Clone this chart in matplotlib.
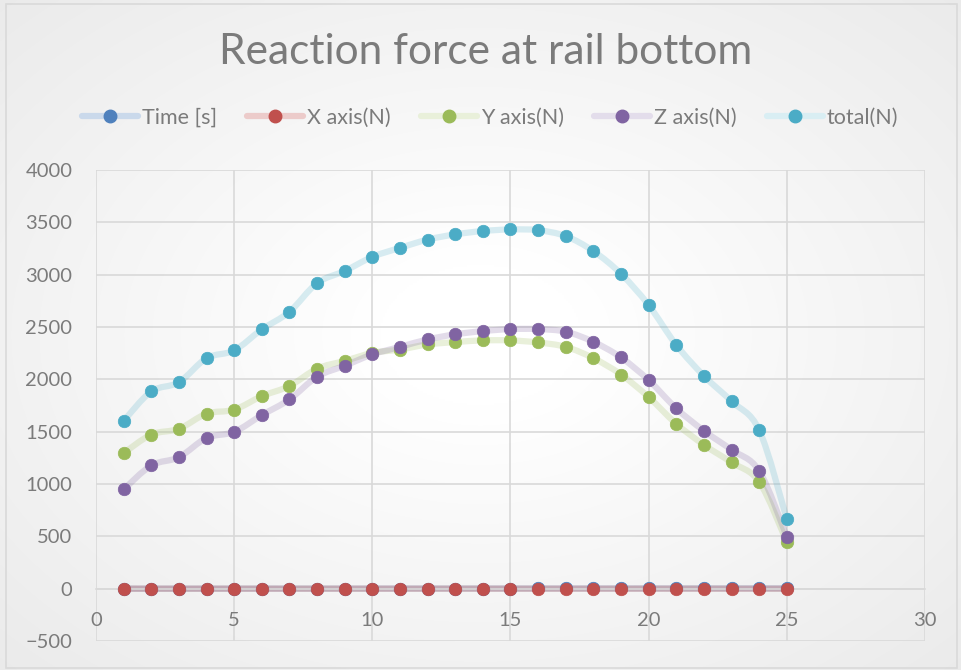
import numpy as np
import matplotlib
matplotlib.use("Agg")
import matplotlib.pyplot as plt
from matplotlib.path import Path
from matplotlib.patches import PathPatch, Rectangle
from matplotlib.lines import Line2D

plt.rcParams['font.family'] = ['Lato', 'DejaVu Sans']

# ---- data -------------------------------------------------------------
step = [1, 2, 3, 4, 5, 6, 7, 8, 9, 10, 11, 12, 13, 14, 15, 16, 17, 18, 19,
        20, 21, 22, 23, 24, 25]
time_s = [0.1, 0.2, 0.3, 0.4, 0.5, 0.6, 0.7, 0.8, 0.9, 1.0, 1.1, 1.2, 1.3,
          1.4, 1.5, 1.6, 1.7, 1.8, 1.9, 2.0, 2.1, 2.2, 2.3, 2.4, 2.5]
x_axis = [0, 0, 0, 0, 0, 0, 0, 0, 0, 0, 0, 0, 0, 0, 0, 0, 0, 0, 0, 0, 0, 0,
          0, 0, 0]
y_axis = [1295, 1472, 1527, 1672, 1710, 1839, 1936, 2102, 2176, 2252, 2285,
          2333, 2356, 2372, 2372, 2352, 2310, 2202, 2046, 1830, 1575, 1374,
          1206, 1020, 447]
z_axis = [948, 1177, 1256, 1440, 1498, 1658, 1808, 2025, 2130, 2238, 2310,
          2381, 2430, 2461, 2480, 2480, 2455, 2358, 2209, 1992, 1722, 1508,
          1326, 1125, 495]
total = [1603, 1884, 1972, 2202, 2276, 2477, 2645, 2919, 3035, 3170, 3256,
         3335, 3385, 3417, 3432, 3425, 3368, 3225, 3008, 2709, 2328, 2033,
         1790, 1515, 665]

series_names = ['Time [s]', 'X axis(N)', 'Y axis(N)', 'Z axis(N)', 'total(N)']
series_values = [time_s, x_axis, y_axis, z_axis, total]
marker_colors = ['#4f81bd', '#c0504d', '#9bbb59', '#8064a2', '#4bacc6']
line_alphas = [0.3, 0.3, 0.22, 0.22, 0.21]

x_ticks = [0, 5, 10, 15, 20, 25, 30]
y_ticks = [-500, 0, 500, 1000, 1500, 2000, 2500, 3000, 3500, 4000]

TEXT_GRAY = '#7b7b7b'
GRID_GRAY = '#d9d9d9'


def smooth_path(xs, ys):
    """Catmull-Rom style Bezier through the points (spreadsheet 'smoothed line')."""
    pts = np.column_stack([xs, ys]).astype(float)
    verts = [pts[0]]
    codes = [Path.MOVETO]
    n = len(pts)
    for i in range(n - 1):
        p0 = pts[i - 1] if i > 0 else pts[i]
        p1 = pts[i]
        p2 = pts[i + 1]
        p3 = pts[i + 2] if i + 2 < n else pts[i + 1]
        verts += [p1 + (p2 - p0) / 6.0, p2 - (p3 - p1) / 6.0, p2]
        codes += [Path.CURVE4] * 3
    return Path(verts, codes)


def blend(hex_color, alpha):
    rgb = np.array(matplotlib.colors.to_rgb(hex_color))
    return tuple(1 - alpha * (1 - rgb))


fig = plt.figure(figsize=(9.61, 6.70), dpi=100)

# soft radial background
bg = fig.add_axes([0, 0, 1, 1], zorder=-10)
gx, gy = np.meshgrid(np.linspace(-1, 1, 481), np.linspace(-1, 1, 335))
r = np.clip(np.sqrt(gx ** 2 + gy ** 2) / np.sqrt(2), 0, 1)
shade = 1.0 - 0.08 * np.clip((r - 0.15) / 0.85, 0, 1)
bg.imshow(np.dstack([shade, shade, shade]), extent=[0, 1, 0, 1],
          aspect='auto', interpolation='bilinear')
bg.set_xlim(0, 1)
bg.set_ylim(0, 1)
bg.axis('off')
bg.add_patch(Rectangle((6 / 961, 2 / 670), 951 / 961, 664 / 670,
                       transform=bg.transAxes, fill=False,
                       edgecolor=GRID_GRAY, lw=1.2))

ax = fig.add_axes([96 / 961, 1 - 641 / 670, 829 / 961, 471 / 670])
ax.set_facecolor('none')
ax.set_xlim(0, 30)
ax.set_ylim(-500, 4000)
ax.set_xticks(x_ticks)
ax.set_yticks(y_ticks)
ax.grid(True, color=GRID_GRAY, lw=1.2)
ax.set_axisbelow(True)
for side in ['top', 'right', 'left']:
    ax.spines[side].set_visible(False)
ax.spines['bottom'].set_position(('data', 0))
ax.spines['bottom'].set_color(GRID_GRAY)
ax.spines['bottom'].set_linewidth(1.2)
ax.tick_params(axis='both', length=0, labelsize=14.5, colors=TEXT_GRAY)
ax.tick_params(axis='x', pad=17)
ax.tick_params(axis='y', pad=17)

for vals, col, a in zip(series_values, marker_colors, line_alphas):
    ax.add_patch(PathPatch(smooth_path(step, vals), facecolor='none',
                           edgecolor=col, lw=4.5, alpha=a,
                           capstyle='round', joinstyle='round', zorder=2))
    ax.plot(step, vals, linestyle='none', marker='o', markersize=9,
            markerfacecolor=col, markeredgecolor=col, markeredgewidth=0.5,
            zorder=3, clip_on=False, snap=False)

handles = [Line2D([0], [0], color=blend(c, a), lw=4.5,
                  solid_capstyle='round', marker='o', markersize=9,
                  markerfacecolor=c, markeredgecolor=c)
           for c, a in zip(marker_colors, line_alphas)]
fig.legend(handles, series_names, loc='center', ncol=5,
           bbox_to_anchor=(490 / 961, 1 - 118 / 670), frameon=False,
           fontsize=15.5, labelcolor=TEXT_GRAY, handlelength=2.6,
           handletextpad=0.19, columnspacing=1.4, borderpad=0)

fig.text(486 / 961, 1 - 52 / 670, 'Reaction force at rail bottom',
         ha='center', va='center', fontsize=30.5, color=TEXT_GRAY)

fig.savefig('out.png', dpi=100)
